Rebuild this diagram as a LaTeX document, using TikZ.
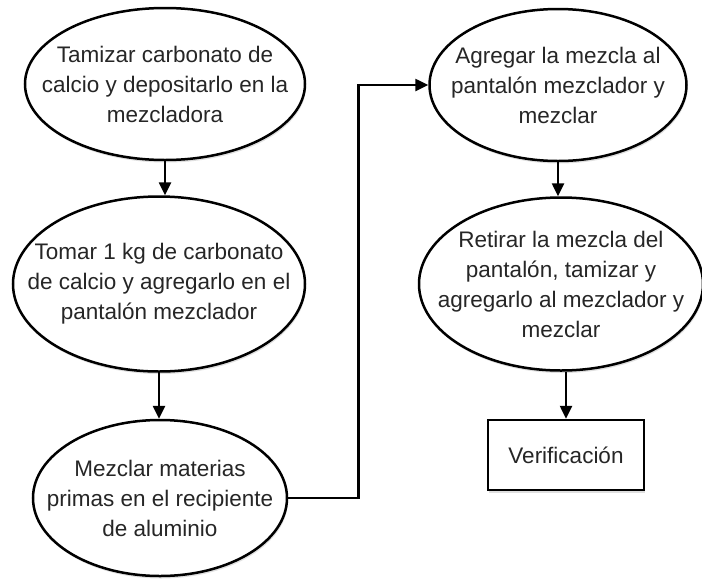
\documentclass[tikz,border=0pt]{standalone}
\usepackage{fontspec}
\setmainfont{Liberation Sans}
\usetikzlibrary{
    arrows.meta,
    shadows,
    shapes.geometric
}

\begin{document}
\begin{tikzpicture}[x=1pt, y=-1pt,
  procellipse/.style={
    draw,
    ellipse,
    line width=2.5pt,
    fill=white,
    drop shadow={shadow xshift=1pt, shadow yshift=-2.5pt, opacity=0.25}
  },
  proctext/.style={
    align=center,
    font=\fontsize{22.5}{30}\selectfont,
    text=black!85
  },
  procbox/.style={
    draw,
    rectangle,
    line width=2.5pt,
    fill=white,
    drop shadow={shadow xshift=1pt, shadow yshift=-2.5pt, opacity=0.25}
  },
  flow/.style={
    line width=2.5pt,
    -{Triangle[length=13pt, width=12pt]}
  }]

  \useasboundingbox (0,0) rectangle (702,579);

  % left column {{{
  \node[
    procellipse,
    minimum width=280pt,
    minimum height=152pt,
    label={[proctext]center:Tamizar carbonato de\\calcio y depositarlo en la\\mezcladora}
  ] (tamizar) at (165,84) {};

  \node[
    procellipse,
    minimum width=292pt,
    minimum height=175pt,
    label={[proctext]center:Tomar 1 kg de carbonato\\de calcio y agregarlo en el\\pantalón mezclador}
  ] (tomar) at (159,284) {};

  \node[
    procellipse,
    minimum width=254pt,
    minimum height=156pt,
    label={[proctext]center:Mezclar materias\\primas en el recipiente\\de aluminio}
  ] (mezclar) at (160,498) {};
  % }}}

  % right column {{{
  \node[
    procellipse,
    minimum width=257pt,
    minimum height=152pt,
    label={[proctext]center:Agregar la mezcla al\\pantalón mezclador y\\mezclar}
  ] (agregar) at (558,85) {};

  \node[
    procellipse,
    minimum width=284pt,
    minimum height=173pt,
    label={[proctext]center:Retirar la mezcla del\\pantalón, tamizar y\\agregarlo al mezclador y\\mezclar}
  ] (retirar) at (561,284) {};

  \node[
    procbox,
    minimum width=156pt,
    minimum height=70pt,
    label={[proctext]center:Verificación}
  ] (verif) at (566,455) {};
  % }}}

  \draw[flow] (tamizar.south) -- (tamizar.south |- tomar.north);
  \draw[flow] (tomar.south) -- (tomar.south |- mezclar.north);
  \draw[flow] (mezclar.east) -- ++(70,0) |- (agregar.west);
  \draw[flow] (agregar.south) -- (agregar.south |- retirar.north);
  \draw[flow] (verif.north |- retirar.south) -- (verif.north);

\end{tikzpicture}
\end{document}
